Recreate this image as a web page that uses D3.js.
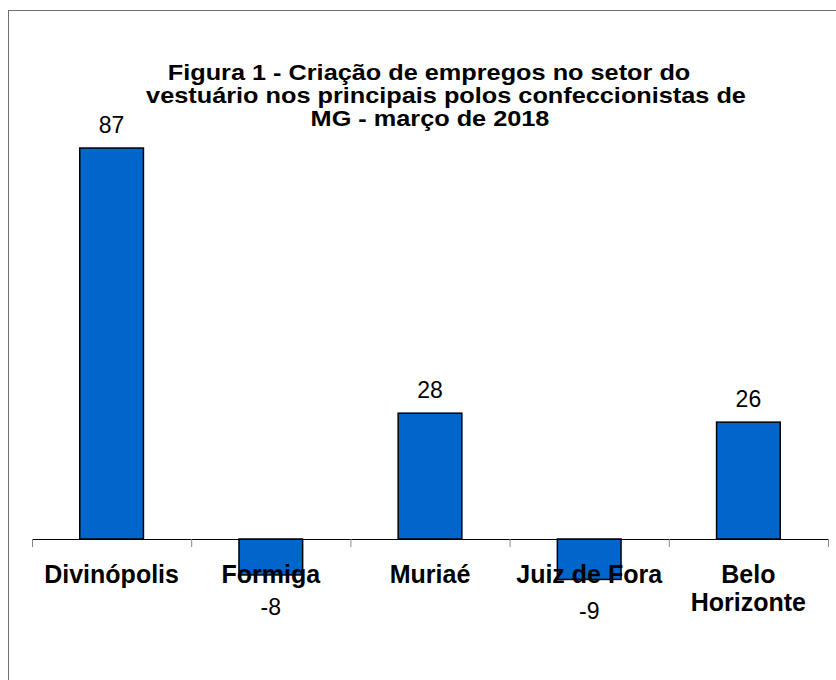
<!DOCTYPE html>
<html>
<head>
<meta charset="utf-8">
<script src="https://cdn.jsdelivr.net/npm/d3@7"></script>
<style>
  body { margin: 0; background: #fff; }
  svg { display: block; font-family: "Liberation Sans", Arial, sans-serif; }
</style>
</head>
<body>
<svg></svg>
<script>
const categories = ['Divinópolis', 'Formiga', 'Muriaé', 'Juiz de Fora', 'Belo Horizonte']
const categoryLines = [['Divinópolis'], ['Formiga'], ['Muriaé'], ['Juiz de Fora'], ['Belo', 'Horizonte']]
const values = [87, -8, 28, -9, 26]
const titleLines = [
  'Figura 1 - Criação de empregos no setor do',
  'vestuário nos principais polos confeccionistas de',
  'MG - março de 2018'
]

const width = 836
const height = 680
const plotLeft = 32
const plotRight = 828
const zeroY = 539
const unit = 4.494

const svg = d3.select('svg')
              .attr('width', width)
              .attr('height', height)

// chart frame, runs off the right and bottom edges
svg.append('rect')
   .attr('x', 8.5)
   .attr('y', 10.5)
   .attr('width', 900)
   .attr('height', 900)
   .attr('fill', 'none')
   .attr('stroke', '#6e6e6e')
   .attr('stroke-width', 1)

const xScale = d3.scaleBand()
                 .domain(categories)
                 .range([plotLeft, plotRight])
                 .paddingInner(0)

const yScale = d3.scaleLinear()
                 .domain([-20, 100])
                 .range([zeroY + 20 * unit, zeroY - 100 * unit])

const barWidth = xScale.bandwidth() * 0.4

svg.append('g')
   .selectAll('rect')
   .data(values)
   .join('rect')
   .attr('x', (d, i) => xScale(categories[i]) + (xScale.bandwidth() - barWidth) / 2)
   .attr('y', d => yScale(Math.max(0, d)))
   .attr('width', barWidth)
   .attr('height', d => Math.abs(yScale(d) - yScale(0)))
   .attr('fill', '#0066cc')
   .attr('stroke', '#000')
   .attr('stroke-width', 1.5)

// category axis with ticks between categories
const tickScale = d3.scaleLinear()
                    .domain([0, categories.length])
                    .range([plotLeft, plotRight])

const xAxis = d3.axisBottom(tickScale)
                .tickValues(d3.range(categories.length + 1))
                .tickFormat('')
                .tickSizeInner(8)
                .tickSizeOuter(0)

const axisG = svg.append('g')
                 .attr('transform', `translate(0, ${yScale(0)})`)
                 .call(xAxis)
axisG.select('.domain').attr('stroke', '#000').attr('stroke-width', 1.2)
axisG.selectAll('.tick line').attr('stroke', '#888')

svg.append('g')
   .selectAll('text')
   .data(categoryLines)
   .join('text')
   .attr('x', (d, i) => xScale(categories[i]) + xScale.bandwidth() / 2)
   .attr('y', 583)
   .attr('text-anchor', 'middle')
   .attr('font-size', 25)
   .attr('font-weight', 'bold')
   .attr('fill', '#000')
   .selectAll('tspan')
   .data(d => d)
   .join('tspan')
   .attr('x', function() { return d3.select(this.parentNode).attr('x') })
   .attr('dy', (d, i) => i === 0 ? 0 : 28)
   .text(d => d)

// value labels
svg.append('g')
   .selectAll('text')
   .data(values)
   .join('text')
   .attr('x', (d, i) => xScale(categories[i]) + xScale.bandwidth() / 2)
   .attr('y', d => d >= 0 ? yScale(d) - 15 : yScale(d) + 40)
   .attr('text-anchor', 'middle')
   .attr('font-size', 23)
   .attr('fill', '#000')
   .text(d => d)

// title is a bit wider than tall in the original, stretch it horizontally
const titleX = [429, 446, 430]
svg.append('g')
   .selectAll('text')
   .data(titleLines)
   .join('text')
   .attr('transform', (d, i) => `translate(${titleX[i]}, ${80 + i * 23}) scale(1.15, 1)`)
   .attr('text-anchor', 'middle')
   .attr('font-size', 22)
   .attr('font-weight', 'bold')
   .attr('fill', '#000')
   .text(d => d)
</script>
</body>
</html>
